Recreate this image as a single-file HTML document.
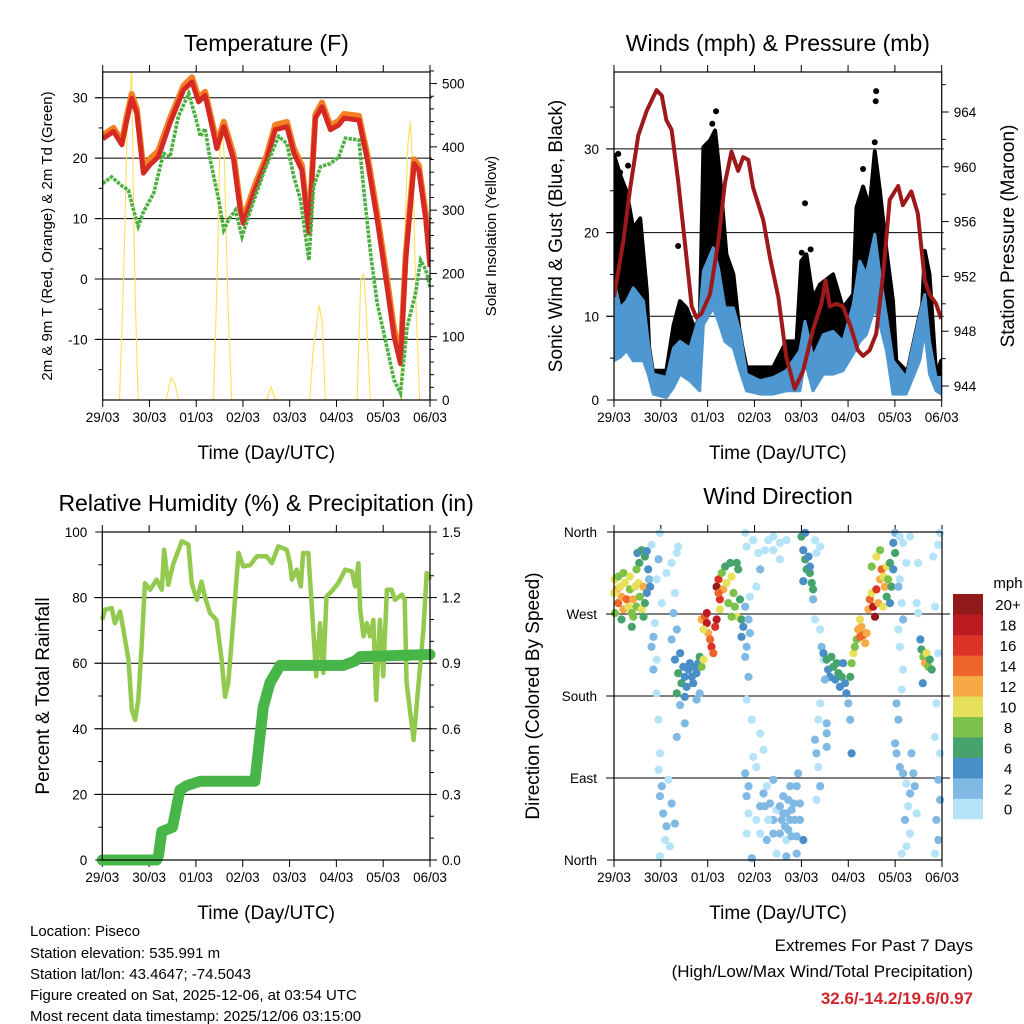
<!DOCTYPE html>
<html><head><meta charset="utf-8"><style>
body{margin:0;background:#fff}
svg{display:block;font-family:"Liberation Sans",Arial,sans-serif}
</style></head><body>
<svg id="chart" width="1024" height="1024" viewBox="0 0 1024 1024">
<rect width="1024" height="1024" fill="#fff"/>
<g id="g1"></g>
<g id="g2"></g>
<g id="g3"></g>
<g id="g4"></g>
<g font-size="15" fill="#000">
<text x="30" y="936">Location: Piseco</text>
<text x="30" y="958">Station elevation: 535.991 m</text>
<text x="30" y="979">Station lat/lon: 43.4647; -74.5043</text>
<text x="30" y="1000">Figure created on Sat, 2025-12-06, at 03:54 UTC</text>
<text x="30" y="1021">Most recent data timestamp: 2025/12/06 03:15:00</text>
<text x="973" y="951" text-anchor="end" font-size="17">Extremes For Past 7 Days</text>
<text x="973" y="977" text-anchor="end" font-size="17">(High/Low/Max Wind/Total Precipitation)</text>
<text x="973" y="1004" text-anchor="end" font-size="17" font-weight="bold" fill="#d0262d">32.6/-14.2/19.6/0.97</text>
</g>
</svg>
<script>
// ---------- DATA ----------
const dayLabels=["29/03","30/03","01/03","02/03","03/03","04/03","05/03","06/03"];
const tDay=[0,0.23,0.41,0.51,0.62,0.73,0.87,1.01,1.19,1.44,1.73,1.91,2.05,2.19,2.34,2.44,2.59,2.8,2.94,3.01,3.23,3.51,3.69,3.94,4.09,4.26,4.41,4.55,4.69,4.87,5.05,5.16,5.48,5.66,5.87,6.09,6.23,6.37,6.48,6.66,6.76,6.91,7];
const tRed=[23.2,24.4,22.2,26,29.9,27.4,17.5,18.9,20.2,25.8,31.3,32.6,29.3,30.4,25.2,21.6,25.2,19.7,11.4,9.2,14.2,19.7,24.7,25.2,20.8,18,7.6,26.6,28.5,24.7,25.5,26.6,26.3,19.7,9.8,-1.8,-9.5,-14,3.1,19.1,18,9.8,2];
const tOrange=[23.8,25,22.8,26.8,30.6,28.2,18.3,19.9,21.2,26.6,32,33.4,30,31,26,22.4,26,20.6,12.2,10,15,20.5,25.5,26,21.6,18.8,8.3,27.2,29.2,25.4,26.2,27.3,27,20.6,10.8,-0.5,-8.2,-13,4,19.8,18.8,10.8,3];
const tdDay=[0,0.19,0.41,0.55,0.66,0.76,0.87,1.09,1.3,1.44,1.62,1.84,1.98,2.09,2.19,2.3,2.48,2.59,2.69,2.84,2.98,3.16,3.44,3.76,3.94,4.09,4.23,4.41,4.51,4.66,4.87,5.05,5.19,5.48,5.59,5.73,5.87,6.09,6.23,6.37,6.51,6.69,6.8,6.91,7];
const tDew=[15.8,16.9,15.4,14.7,11.4,8.7,11.1,14.2,20.8,20.2,26.9,30.7,26.9,23.6,24.9,19.7,13.1,8.1,9.8,11.4,7,11.4,17.5,23.6,22.4,16.9,13.1,3.1,15.3,18.6,19.1,20.2,23.3,23,14.2,4.2,-4,-11.7,-16.7,-18.9,-7.9,-2.4,3.1,1.5,-1.3];
const solDay=[0,0.36,0.45,0.52,0.58,0.62,0.66,0.7,0.76,1.36,1.46,1.55,1.62,2.37,2.45,2.5,2.55,2.6,2.68,2.76,3.5,3.6,3.7,4.43,4.5,4.56,4.63,4.7,4.76,5.44,5.52,5.58,5.63,5.72,6.37,6.44,6.52,6.58,6.64,6.7,6.78,7];
const solVal=[0,0,200,420,470,530,300,150,0,0,35,25,0,0,200,380,445,380,150,0,0,20,0,0,80,110,150,120,0,0,190,200,150,0,0,200,400,440,350,150,0,0];
const pDay=[0,0.2,0.34,0.52,0.7,0.91,1.02,1.12,1.23,1.37,1.51,1.66,1.76,1.87,2.05,2.23,2.37,2.51,2.65,2.76,2.87,2.97,3.19,3.33,3.51,3.68,3.86,4.04,4.25,4.43,4.52,4.61,4.75,4.89,5.04,5.21,5.32,5.46,5.6,5.75,5.89,6.07,6.17,6.35,6.49,6.64,6.74,6.88,6.99];
const pVal=[950.5,954.6,958.3,962.3,964.1,965.6,965.2,963.4,962.7,959,954.6,949.8,949,949.3,950.7,954.6,958.8,961.1,959.7,960.7,960.5,958.5,956.1,953.4,950.5,946.1,943.8,945.1,948.1,950,951.7,949.8,950,949.8,948.5,946.6,946.2,946.6,947.8,952.2,957.6,958.6,957.2,958.2,956.6,951.7,950.7,950,948.9];
const wDay=[0,0.13,0.27,0.41,0.63,0.73,0.84,1.12,1.27,1.41,1.62,1.83,1.91,2.12,2.23,2.37,2.55,2.69,2.83,3.12,3.4,3.68,3.97,4.08,4.25,4.47,4.68,4.89,5.11,5.25,5.39,5.57,5.68,5.82,5.96,6.24,6.53,6.64,6.74,6.88,6.99];
const wLo=[4.7,5.1,5.9,4.7,4.7,3.1,0.7,0.3,1.5,3.1,2.3,1.1,9,11,9.4,7,6.2,3.5,1.1,0.7,0.7,1.1,1.1,4.7,1.1,3.1,3.1,3.5,5.5,7,7.8,11,9,5.9,0.7,0.7,4.7,8.2,3.1,1.1,0.7];
const wHi=[14.2,11,11.8,13.4,11.8,7,3.1,2.7,6.2,7,6.2,10.2,15.4,18.2,15.8,11,11,8.2,3.1,2.3,2.7,3.5,5.9,9.4,5.1,7.8,8.2,7,11.4,16.6,15,19.8,15,10,4.7,2.7,10.2,12.6,7,2.7,2.7];
const gDay=[0,0.13,0.27,0.41,0.56,0.7,0.77,0.91,1.12,1.27,1.41,1.55,1.69,1.83,1.91,2.05,2.16,2.26,2.4,2.55,2.69,2.83,3.12,3.4,3.68,3.9,4,4.11,4.25,4.4,4.68,4.89,5.11,5.18,5.32,5.46,5.57,5.68,5.82,5.96,6.03,6.24,6.53,6.64,6.74,6.88,6.99];
const gHi=[29.3,26.9,24.9,20.5,21.7,13,3.5,3.5,3.5,8.9,11.8,11,9,8.6,30.2,31,32.2,26.9,17.4,15,7.8,3.9,3.9,3.9,7,7,16.6,17.4,12.2,13.8,15,11,12.6,23,25.5,23,29.7,25,17.8,11.8,4.7,3.5,5,17.8,15,3.1,4.7];
const gOutDay=[1.37,2.18,5.6,5.59,5.57,4.08,4.01,4.2,5.32,0.09,0.13,0.3,2.1];
const gOutVal=[18.4,34.5,36.9,35.7,30.8,23.5,17.6,18,27.6,29.4,27.2,28,33];
const rhDay=[0,0.06,0.2,0.27,0.38,0.45,0.56,0.63,0.7,0.77,0.84,0.91,1.02,1.16,1.27,1.32,1.41,1.52,1.7,1.84,1.91,2.02,2.12,2.19,2.3,2.44,2.55,2.62,2.69,2.8,2.91,3.01,3.16,3.3,3.51,3.62,3.76,3.94,4.01,4.05,4.15,4.24,4.29,4.4,4.47,4.57,4.65,4.72,4.79,4.9,5.04,5.19,5.33,5.4,5.47,5.51,5.58,5.65,5.72,5.79,5.85,5.93,6,6.08,6.18,6.25,6.4,6.46,6.5,6.57,6.65,6.75,6.86,6.93,7];
const rhVal=[73.2,76.3,76.8,72.2,75.8,70.2,61,45.8,42.7,48.8,65.1,84.4,82.4,85.5,82.4,94.6,83.9,90.5,97.2,96.2,84.4,79.3,84.9,80.4,75.3,73.2,61,49.8,53.9,73.2,93.6,89.5,89.9,92.6,92.6,90.5,95.6,94.6,90.5,85.5,88.5,83.4,93.6,93.6,78.3,56,72.2,57,80.4,81.9,84.4,88.5,88,83.4,90.5,76.3,68.2,72.2,68.2,73.2,48.8,73.2,56,82.4,82.4,79.3,80.9,79.3,53.9,45.8,36.6,52.9,70.2,87.5,85.5];
const prDay=[0,1.16,1.2,1.27,1.5,1.66,1.8,2.09,3.26,3.44,3.58,3.8,5.15,5.4,5.51,7];
const prVal=[0,0,0.02,0.13,0.15,0.32,0.34,0.36,0.36,0.7,0.81,0.89,0.89,0.91,0.93,0.94];
const dirDay=[0.02,0.06,0.09,0.13,0.16,0.2,0.23,0.27,0.31,0.34,0.38,0.41,0.45,0.48,0.52,0.55,0.59,0.63,0.66,0.7,0.02,0.16,0.38,0.5,0.54,0.59,0.66,0.73,0.7,0.75,0.77,0.2,0.34,0.09,0.41,0.63,0,0.48,
0.8,0.98,0.95,0.91,1.02,0.87,0.84,0.8,0.91,0.84,0.91,0.95,0.98,0.95,1.02,0.98,1.05,1.12,1.09,0.98,1.16,1.23,1.3,1.19,1.3,1.34,1.23,1.12,1.37,1.27,1.34,1.23,
1.3,1.37,1.41,1.44,1.48,1.51,1.55,1.59,1.62,1.66,1.69,1.73,1.76,1.8,1.83,1.87,1.91,1.34,1.51,1.41,1.51,1.34,1.83,1.76,
1.87,1.94,1.98,2.01,2.05,2.08,2.12,2.16,2.19,1.91,1.98,
2.19,2.23,2.26,2.3,2.33,2.37,2.4,2.44,2.48,2.51,2.55,2.58,2.62,2.65,2.69,2.72,2.76,2.72,2.62,2.51,2.26,2.23,
2.8,2.83,2.97,3.08,3.12,3.04,2.9,2.8,2.87,2.9,2.83,2.8,2.87,2.83,2.94,3.12,3.19,3.04,2.97,2.8,2.87,2.83,2.87,2.83,2.94,3.04,3.12,3.19,3.26,3.33,3.4,3.47,3.54,3.61,3.68,3.76,3.83,3.9,3.93,3.97,4.04,3.9,3.68,3.47,3.26,3.12,3.4,3.61,3.76,3.79,3.97,3.4,3.54,3.65,3.29,3.4,3.54,3.68,3.4,3.54,3.22,3.68,3.72,3.58,3.86,3.79,3.72,3.9,3.29,3.22,
4,4.04,4.08,4.11,4.15,4.18,4.22,4.25,4.04,4.18,4.25,4.08,4.4,4.32,4.29,
4.29,4.4,4.43,4.47,4.4,4.36,4.54,4.54,4.29,4.32,4.36,4.4,4.32,4.54,
4.47,4.54,4.57,4.61,4.64,4.68,4.72,4.75,4.79,4.82,4.86,4.89,4.93,4.96,5,5.04,5.07,5.11,5.14,5.18,4.5,5.07,5.04,
5.21,5.25,5.28,5.32,5.36,5.25,5.39,
5.43,5.46,5.5,5.53,5.57,5.6,5.64,5.68,5.71,5.75,5.78,5.82,5.85,5.89,5.92,5.96,6,5.96,5.5,5.68,5.6,5.75,5.82,5.89,
6,6.1,6.17,6.32,6.24,6.1,6.07,6.14,6.17,6.07,6.1,6.17,6.14,6.03,6.07,6,6.03,6.1,6.17,6.24,6.32,6.28,6.21,6.32,6.24,6.14,6.35,6.39,6.42,6.46,6.49,6.46,6.49,
6.54,6.56,6.6,6.64,6.67,6.71,6.74,6.78,6.59,
6.81,6.85,6.92,6.88,6.85,6.96,6.92,6.96,6.88,6.92,6.85,6.96,6.92];
const dirDeg=[308,297,282,300,289,275,304,286,278,297,271,286,300,278,304,289,275,300,282,293,271,264,256,337,326,340,333,319,339,308,300,315,311,311,267,267,293,319,
346,359,330,308,282,260,245,234,220,209,183,154,117,99,81,70,51,37,22,4,88,62,40,15,293,337,326,315,344,271,253,242,
220,205,227,194,212,201,190,209,216,201,194,212,205,216,223,212,220,183,179,170,150,135,183,176,
264,267,260,249,242,234,227,256,264,253,271,
300,308,286,315,297,322,304,282,326,311,293,278,267,319,286,264,256,245,326,267,275,293,
359,344,351,337,319,300,289,278,264,249,234,223,201,176,154,139,121,102,113,95,81,70,51,29,2,44,59,73,81,62,44,55,29,51,22,44,62,81,95,44,22,7,4,7,22,29,88,70,81,26,62,29,59,37,351,355,348,351,340,330,340,51,66,44,44,55,33,26,44,59,
355,340,330,319,333,315,304,297,306,322,286,359,344,337,351,
264,253,234,220,172,154,150,139,132,117,102,81,66,124,
227,220,209,201,223,212,198,216,205,190,201,216,194,183,172,201,216,227,234,242,198,117,154,
253,245,256,247,238,264,249,
275,286,293,278,267,297,282,308,319,311,300,322,308,326,300,319,337,348,322,340,333,278,289,282,
359,355,348,355,326,308,300,282,264,253,234,209,187,172,154,128,117,102,95,84,73,59,44,29,15,7,117,95,81,51,326,282,271,
242,231,223,216,227,212,220,209,194,
333,278,227,172,135,117,88,66,44,22,7,359,346];
const dirSpd=[10,12,14,11,13,12,10,14,11,9,8,12,10,9,11,8,10,12,7,5,8,7,6,5,7,6,6,5,4,3,4,9,10,8,9,6,11,8,
1,1,2,1,1,1,2,2,1,2,1,1,1,1,2,2,2,2,1,1,1,2,2,1,1,1,1,1,1,2,3,3,
4,6,4,6,4,4,4,5,4,4,5,4,4,5,6,9,10,6,4,3,3,3,3,2,
13,15,18,12,15,16,14,17,18,11,19,
20,16,17,8,13,7,10,9,7,11,8,9,10,6,7,7,5,4,6,8,11,14,
1,1,1,1,2,1,1,2,3,2,3,3,2,1,1,1,1,1,1,3,2,3,1,1,2,1,2,2,1,2,2,1,2,2,1,2,3,2,2,2,4,2,2,1,2,1,2,2,2,2,2,2,3,2,1,1,1,1,1,1,1,3,3,2,3,2,2,3,1,2,
6,4,6,7,5,6,6,7,4,4,3,5,1,1,1,
1,1,2,1,1,1,3,3,3,2,1,2,1,3,
5,6,5,4,6,6,5,7,6,5,6,4,4,4,3,7,8,10,9,8,3,4,3,
13,14,12,14,13,10,12,
13,14,11,18,20,16,12,13,15,11,12,10,9,7,6,5,6,4,9,8,11,10,7,5,
2,1,1,1,1,1,2,1,2,1,1,1,1,3,2,2,3,2,2,1,2,1,2,1,1,1,2,2,2,1,1,1,1,
4,6,8,12,10,9,7,6,4,
1,1,1,1,1,1,2,3,3,2,1,1,1];
const cbLabels=["0","2","4","6","8","10","12","14","16","18","20+"];
const cbColors=["#b5e3f8","#7fb9e4","#4a8ec8","#46a36b","#7cc14a","#e6e05a","#f6a944","#ee6529","#dd3226","#bb1c22","#931a1a"];

// ---------- HELPERS ----------
const NS="http://www.w3.org/2000/svg";
function mk(parent,tag,attrs){const e=document.createElementNS(NS,tag);for(const k in attrs)e.setAttribute(k,attrs[k]);parent.appendChild(e);return e;}
function txt(parent,x,y,s,size,anchor,extra){const t=mk(parent,"text",Object.assign({x:x,y:y,"font-size":size,"text-anchor":anchor||"middle",fill:"#000"},extra||{}));t.textContent=s;return t;}
function lin(d0,d1,r0,r1){return v=>r0+(v-d0)*(r1-r0)/(d1-d0);}
function path(xs,ys,fx,fy){let s="";for(let i=0;i<xs.length;i++)s+=(i?"L":"M")+fx(xs[i]).toFixed(1)+","+fy(ys[i]).toFixed(1);return s;}

function frame(g,P){
  const fx=lin(0,7,P.x0,P.x1);
  for(let d=0;d<=7;d++){
    const x=fx(d);
    const tk=mk(g,"line",{x1:x,x2:x,y1:P.y0-7,y2:P.y0,stroke:"#000","stroke-width":1});
    
    
    const tb=mk(g,"line",{x1:x,x2:x,y1:P.y1,y2:P.y1+7,stroke:"#000","stroke-width":1});
    
    
    const tl=txt(g,x,P.y1+22,dayLabels[d],13.5);
    
    
  }
  const xt=txt(g,(P.x0+P.x1)/2,P.y1+59,"Time (Day/UTC)",19);
  
  
  const tt=txt(g,(P.x0+P.x1)/2,P.title_y,P.title,23);
  
  
  return fx;
}
function border(g,P){
  const b=mk(g,"rect",{x:P.x0,y:P.y0,width:P.x1-P.x0,height:P.y1-P.y0,fill:"none",stroke:"#000","stroke-width":1.2});
  
  
}
function grid(g,P,ys,ext){
  ys.forEach(y=>{const l=mk(g,"line",{x1:P.x0-8,x2:P.x1+(ext||2),y1:y,y2:y,stroke:"#000","stroke-width":1});
    
    });
}
function yAxis(g,P,side,vals,fy,fmt,minor,size){
  const x=side==="L"?P.x0:P.x1;const dir=side==="L"?-1:1;
  vals.forEach(v=>{const y=fy(v);
    const l=mk(g,"line",{x1:x,x2:x+dir*7,y1:y,y2:y,stroke:"#000","stroke-width":1});
    
    
    const t=txt(g,x+dir*(side==="L"?15:12),y+5,fmt(v),size||13.5,side==="L"?"end":"start");
    
    });
  (minor||[]).forEach(v=>{const y=fy(v);
    const l=mk(g,"line",{x1:x,x2:x+dir*4,y1:y,y2:y,stroke:"#000","stroke-width":1});
    
    });
}
function vtitle(g,x,y,s,size){const t=txt(g,x,y,s,size,"middle",{transform:"rotate(-90 "+x+" "+y+")"});return t;}
function range(a,b,s){const r=[];for(let v=a;v<=b+1e-9;v+=s)r.push(+v.toFixed(3));return r;}

// ---------- PANEL 1 ----------
(function(){
  const g=document.getElementById("g1");
  const P={x0:102.7,x1:430,y0:72,y1:400,title:"Temperature (F)",title_y:51};
  const fx=frame(g,P);
  const fy=lin(0,30,279,97.7);
  const fs=lin(0,500,400,83.6);
  const cp=mk(g,"clipPath",{id:"c1"});mk(cp,"rect",{x:P.x0,y:P.y0,width:P.x1-P.x0,height:P.y1-P.y0});
  grid(g,P,[-10,0,10,20,30].map(fy));
  const sol=mk(g,"path",{d:path(solDay,solVal,fx,fs),fill:"none",stroke:"#ffe066","stroke-width":1.2,"clip-path":"url(#c1)"});
  
  
  const o=mk(g,"path",{d:path(tDay,tOrange,fx,fy),fill:"none",stroke:"#f57f22","stroke-width":6,"stroke-linejoin":"round","clip-path":"url(#c1)"});
  
  
  const r=mk(g,"path",{d:path(tDay,tRed,fx,fy),fill:"none",stroke:"#d52a24","stroke-width":5,"stroke-linejoin":"round","clip-path":"url(#c1)"});
  
  
  const dp=mk(g,"path",{d:path(tdDay,tDew,fx,fy),fill:"none",stroke:"#4cb040","stroke-width":3.6,"stroke-dasharray":"3.4 1.2","clip-path":"url(#c1)"});
  
  
  border(g,P);
  yAxis(g,P,"L",[-10,0,10,20,30],fy,v=>String(v),[-15,-5,5,15,25]);
  yAxis(g,P,"R",[0,100,200,300,400,500],fs,v=>String(v),range(20,520,20).filter(v=>v%100));
  const t1=vtitle(g,52,236,"2m & 9m T (Red, Orange) & 2m Td (Green)",15);
  
  
  const t2=vtitle(g,496,236,"Solar Insolation (Yellow)",15);
  
  
})();

// ---------- PANEL 2 ----------
(function(){
  const g=document.getElementById("g2");
  const P={x0:614,x1:941.7,y0:72,y1:400,title:"Winds (mph) & Pressure (mb)",title_y:51};
  const fx=frame(g,P);
  const fy=lin(0,30,400,148.9);
  const fp=lin(944,964,386,112);
  const cp=mk(g,"clipPath",{id:"c2"});mk(cp,"rect",{x:P.x0,y:P.y0,width:P.x1-P.x0,height:P.y1-P.y0});
  grid(g,P,[10,20,30].map(fy));
  let d=path(gDay,gHi,fx,fy);
  for(let i=wDay.length-1;i>=0;i--)d+="L"+fx(wDay[i]).toFixed(1)+","+fy(wHi[i]).toFixed(1);
  const gc=mk(g,"path",{d:d+"Z",fill:"#000",stroke:"#000","stroke-width":4,"stroke-linejoin":"round","clip-path":"url(#c2)"});
  
  
  for(let i=0;i<gOutDay.length;i++){
    const c=mk(g,"circle",{cx:fx(gOutDay[i]),cy:fy(gOutVal[i]),r:3,fill:"#000"});
    
    
  }
  let b=path(wDay,wHi,fx,fy);
  for(let i=wDay.length-1;i>=0;i--)b+="L"+fx(wDay[i]).toFixed(1)+","+fy(wLo[i]).toFixed(1);
  const bw=mk(g,"path",{d:b+"Z",fill:"#4f97d0",stroke:"#4f97d0","stroke-width":3,"stroke-linejoin":"round","clip-path":"url(#c2)"});
  
  
  const pr=mk(g,"path",{d:path(pDay,pVal,fx,fp),fill:"none",stroke:"#9e1a1a","stroke-width":4,"stroke-linejoin":"round","clip-path":"url(#c2)"});
  
  
  border(g,P);
  yAxis(g,P,"L",[0,10,20,30],fy,v=>String(v),[5,15,25,35]);
  yAxis(g,P,"R",[944,948,952,956,960,964],fp,v=>String(v),[946,950,954,958,962,966]);
  const t1=vtitle(g,562,236,"Sonic Wind & Gust (Blue, Black)",19);
  
  
  const t2=vtitle(g,1014,236,"Station Pressure (Maroon)",19);
  
  
})();

// ---------- PANEL 3 ----------
(function(){
  const g=document.getElementById("g3");
  const P={x0:102.3,x1:430,y0:532,y1:860,title:"Relative Humidity (%) & Precipitation (in)",title_y:511};
  const fx=frame(g,P);
  const fy=lin(0,100,860,532);
  const fr=lin(0,1.5,860,532);
  grid(g,P,[20,40,60,80].map(fy));
  const rh=mk(g,"path",{d:path(rhDay,rhVal,fx,fy),fill:"none",stroke:"#93c94e","stroke-width":4.5,"stroke-linejoin":"round"});
  
  
  const pc=mk(g,"path",{d:path(prDay,prVal,fx,fr),fill:"none",stroke:"#47b548","stroke-width":11,"stroke-linejoin":"round","stroke-linecap":"round"});
  
  
  border(g,P);
  yAxis(g,P,"L",[0,20,40,60,80,100],fy,v=>String(v),[10,30,50,70,90]);
  yAxis(g,P,"R",[0,0.3,0.6,0.9,1.2,1.5],fr,v=>v.toFixed(1),[0.1,0.2,0.4,0.5,0.7,0.8,1.0,1.1,1.3,1.4]);
  const t1=vtitle(g,49,696,"Percent & Total Rainfall",19);
  
  
})();

// ---------- PANEL 4 ----------
(function(){
  const g=document.getElementById("g4");
  const P={x0:614,x1:942,y0:532,y1:860,title:"Wind Direction",title_y:504};
  const fx=frame(g,P);
  const fd=lin(0,360,860,532);
  grid(g,P,[90,180,270].map(fd),8);
  for(let i=0;i<dirDay.length;i++){
    const idx=Math.min(10,Math.floor(dirSpd[i]/2));
    const c=mk(g,"circle",{cx:fx(dirDay[i]).toFixed(1),cy:fd(dirDeg[i]).toFixed(1),r:4.1,fill:cbColors[idx]});
    
    
  }
  border(g,P);
  const names=["North","East","South","West","North"];
  [0,90,180,270,360].forEach((v,i)=>{const y=fd(v);
    const l=mk(g,"line",{x1:P.x0-7,x2:P.x0,y1:y,y2:y,stroke:"#000"});
    
    
    const t=txt(g,P.x0-17,y+5,names[i],13.5,"end");
    
    });
  const t1=vtitle(g,539,696,"Direction (Colored By Speed)",19);
  
  
  const cbg=mk(g,"g",{});
  
  
  const bh=20.45, top=594;
  for(let i=0;i<11;i++){
    const y=top+(10-i)*bh;
    const r=mk(cbg,"rect",{x:953,y:y,width:30,height:bh+0.3,fill:cbColors[i]});
    
    
    const t=txt(cbg,1008,y+bh/2+6,cbLabels[i],15);
    
    
  }
  const u=txt(cbg,1008,588,"mph",15);
  
  
})();
</script>
</body></html>
